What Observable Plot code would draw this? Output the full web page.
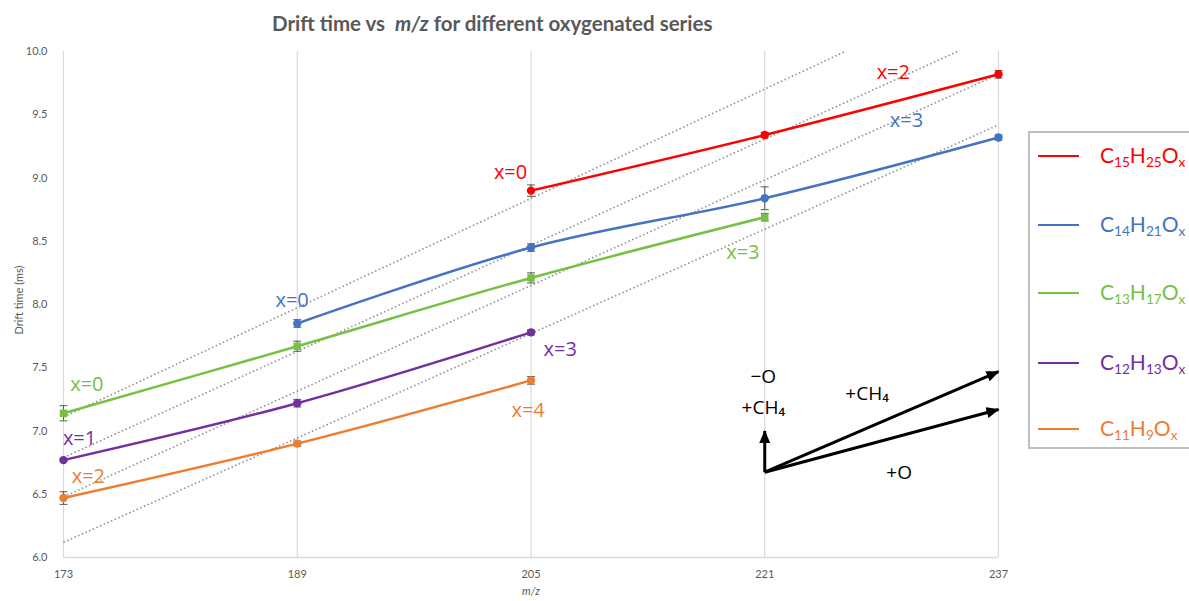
<!DOCTYPE html>
<html><head><meta charset="utf-8">
<script src="https://cdn.jsdelivr.net/npm/d3@7"></script>
<script src="https://cdn.jsdelivr.net/npm/@observablehq/plot@0.6"></script>
<style>
body{margin:0;background:#fff;font-family:Lato,"Open Sans",sans-serif;}
#wrap{position:relative;width:1189px;height:601px;overflow:hidden;}
#chart{position:absolute;left:0;top:0;}
#title{position:absolute;left:272px;top:11px;white-space:nowrap;font-weight:bold;font-size:20.5px;color:#595959;}
#ylab{position:absolute;left:18px;top:300px;transform:translate(-50%,-50%) rotate(-90deg);font-size:11px;color:#595959;white-space:nowrap;}
#xlab{position:absolute;left:531px;top:590px;transform:translate(-50%,-50%);font-size:11px;font-style:italic;color:#595959;}
#legend{position:absolute;left:1028px;top:131px;width:200px;height:318px;border:2px solid #bfbfbf;box-sizing:border-box;}
.row{position:absolute;left:0;height:30px;display:flex;align-items:center;transform:translateY(-50%);}
.swatch{display:inline-block;width:41px;height:2.5px;margin-left:8px;}
.lbl{margin-left:21px;font-size:21px;white-space:nowrap;}
.lbl sub{font-size:0.65em;vertical-align:-0.28em;}
</style></head>
<body>
<div id="wrap">
  <div id="chart"></div>
  <div id="title">Drift time vs&nbsp; <i>m/z</i> for different oxygenated series</div>
  <div id="ylab">Drift time (ms)</div>
  <div id="xlab">m/z</div>
  <div id="legend"></div>
</div>
<script>
// ---- data ----
const mz = [173, 189, 205, 221, 237];
const yTicks = [6.0, 6.5, 7.0, 7.5, 8.0, 8.5, 9.0, 9.5, 10.0];
const seriesNames = ["C15H25Ox", "C14H21Ox", "C13H17Ox", "C12H13Ox", "C11H9Ox"];
const seriesLabels = [["C","15","H","25","O","x"],["C","14","H","21","O","x"],["C","13","H","17","O","x"],["C","12","H","13","O","x"],["C","11","H","9","O","x"]];
const seriesColors = ["#ff0000", "#4472c4", "#76c043", "#7030a0", "#ed7d31"];

const c15 = [null, null, 8.90, 9.34, 9.82];
const c15Err = [null, null, 0.045, 0.02, 0.03];
const c14 = [null, 7.85, 8.45, 8.84, 9.32];
const c14Err = [null, 0.03, 0.03, 0.09, 0.02];
const c13 = [7.14, 7.67, 8.21, 8.69, null];
const c13Err = [0.06, 0.04, 0.04, 0.03, null];
const c12 = [6.77, 7.22, 7.78, null, null];
const c12Err = [0.01, 0.03, 0.02, null, null];
const c11 = [6.47, 6.90, 7.40, null, null];
const c11Err = [0.05, 0.02, 0.03, null, null];

// dotted guide lines (start / end points in data units)
const guideX1 = [173, 173, 173, 173];
const guideY1 = [6.12, 6.48, 6.79, 7.11];
const guideX2 = [237, 237, 234.2, 226.5];
const guideY2 = [9.42, 9.82, 10.0, 10.0];

// point labels
const labText = ["x=0","x=3","x=1","x=3","x=2","x=4","x=0","x=3","x=0","x=2"];
const labSeries = [2, 2, 3, 3, 4, 4, 1, 1, 0, 0];
const labX = [174.6, 219.5, 174.1, 207.0, 174.7, 204.8, 188.65, 230.7, 203.6, 229.8];
const labY = [7.37, 8.41, 6.94, 7.64, 6.64, 7.16, 8.03, 9.45, 9.04, 9.83];

// vector diagram
const arrX1 = [221, 221, 221];
const arrY1 = [6.674, 6.674, 6.674];
const arrX2 = [221, 237, 237];
const arrY2 = [7.0, 7.47, 7.17];
const vecText = ["\u2212O", "+CH\u2084", "+CH\u2084", "+O"];
const vecX = [220.9, 220.9, 228.0, 230.2];
const vecY = [7.43, 7.18, 7.29, 6.67];

// ---- build tables ----
const vals = [c15, c14, c13, c12, c11];
const errs = [c15Err, c14Err, c13Err, c12Err, c11Err];
const rows = [];
vals.forEach((v, i) => v.forEach((t, j) => { if (t != null) rows.push({series: seriesNames[i], mz: mz[j], t, err: errs[i][j]}); }));
const guides = guideX1.map((x, i) => ({x1: x, y1: guideY1[i], x2: guideX2[i], y2: guideY2[i]}));
const labels = labText.map((t, i) => ({text: t, x: labX[i], y: labY[i], color: seriesColors[labSeries[i]]}));
const arrows = arrX1.map((x, i) => ({x1: x, y1: arrY1[i], x2: arrX2[i], y2: arrY2[i]}));
const vecLabels = vecText.map((t, i) => ({text: t, x: vecX[i], y: vecY[i]}));
const capHalf = 0.27;
const ARROW_INK = "#000001";

const chart = Plot.plot({
  width: 1189, height: 601,
  marginTop: 51, marginBottom: 44, marginLeft: 63, marginRight: 191,
  style: {fontFamily: "Lato, sans-serif", fontSize: "11px", color: "#595959", background: "white"},
  x: {domain: [173, 237], ticks: mz, tickFormat: d => String(d), tickSize: 0, tickPadding: 13, label: null},
  y: {domain: [6, 10], ticks: yTicks, tickFormat: d3.format(".1f"), tickSize: 0, tickPadding: 16, label: null},
  color: {domain: seriesNames, range: seriesColors},
  marks: [
    Plot.ruleX(mz, {stroke: "#d9d9d9", strokeWidth: 1.2}),
    Plot.ruleY([6], {stroke: "#d9d9d9", strokeWidth: 1.5}),
    Plot.link(guides, {x1: "x1", y1: "y1", x2: "x2", y2: "y2", stroke: "#8f8f8f", strokeWidth: 1.6, strokeDasharray: "1.5,2.5"}),
    Plot.ruleX(rows, {x: "mz", y1: d => d.t - d.err, y2: d => d.t + d.err, stroke: "#595959", strokeWidth: 1}),
    Plot.link(rows, {x1: d => d.mz - capHalf, x2: d => d.mz + capHalf, y1: d => d.t + d.err, y2: d => d.t + d.err, stroke: "#595959", strokeWidth: 1}),
    Plot.link(rows, {x1: d => d.mz - capHalf, x2: d => d.mz + capHalf, y1: d => d.t - d.err, y2: d => d.t - d.err, stroke: "#595959", strokeWidth: 1}),
    Plot.line(rows, {x: "mz", y: "t", z: "series", stroke: "series", strokeWidth: 2.5, curve: "catmull-rom"}),
    Plot.dot(rows.filter(d => d.series !== "C13H17Ox"), {x: "mz", y: "t", fill: "series", r: 4.2, symbol: "circle"}),
    Plot.dot(rows.filter(d => d.series === "C13H17Ox"), {x: "mz", y: "t", fill: "series", r: 4.2, symbol: "square"}),
    Plot.text(labels, {x: "x", y: "y", text: "text", fill: d => d.color, fontSize: 20, fontFamily: "Open Sans, sans-serif"}),
    Plot.link(arrows, {x1: "x1", y1: "y1", x2: "x2", y2: "y2", stroke: ARROW_INK, strokeWidth: 3}),
    Plot.text(vecLabels, {x: "x", y: "y", text: "text", fill: "black", fontSize: 19, fontFamily: "Open Sans, sans-serif"})
  ]
});
document.getElementById("chart").appendChild(chart);

// filled arrowheads for the vector diagram
const svg = chart.tagName.toLowerCase() === "svg" ? chart : chart.querySelector("svg");
const ns = "http://www.w3.org/2000/svg";
const defs = document.createElementNS(ns, "defs");
const mk = document.createElementNS(ns, "marker");
mk.setAttribute("id", "ahead");
mk.setAttribute("markerUnits", "userSpaceOnUse");
mk.setAttribute("viewBox", "0 0 13 11");
mk.setAttribute("markerWidth", "13");
mk.setAttribute("markerHeight", "11");
mk.setAttribute("refX", "12");
mk.setAttribute("refY", "5.5");
mk.setAttribute("orient", "auto");
const tri = document.createElementNS(ns, "path");
tri.setAttribute("d", "M0,0 L13,5.5 L0,11 Z");
tri.setAttribute("fill", "black");
tri.setAttribute("stroke", "none");
mk.appendChild(tri);
defs.appendChild(mk);
svg.insertBefore(defs, svg.firstChild);
svg.querySelectorAll("g").forEach(g => {
  const s = (g.getAttribute("stroke") || "").toLowerCase();
  if (s === ARROW_INK) g.querySelectorAll("path, line").forEach(p => p.setAttribute("marker-end", "url(#ahead)"));
});

// legend
const leg = document.getElementById("legend");
const rowTops = [23, 92, 160, 230, 296];
seriesNames.forEach((s, i) => {
  const r = document.createElement("div");
  r.className = "row";
  r.style.top = rowTops[i] + "px";
  const sw = document.createElement("span");
  sw.className = "swatch"; sw.style.background = seriesColors[i];
  const lb = document.createElement("span");
  lb.className = "lbl"; lb.style.color = seriesColors[i];
  const p = seriesLabels[i];
  lb.innerHTML = `${p[0]}<sub>${p[1]}</sub>${p[2]}<sub>${p[3]}</sub>${p[4]}<sub>${p[5]}</sub>`;
  r.appendChild(sw); r.appendChild(lb);
  leg.appendChild(r);
});
</script>
</body></html>
